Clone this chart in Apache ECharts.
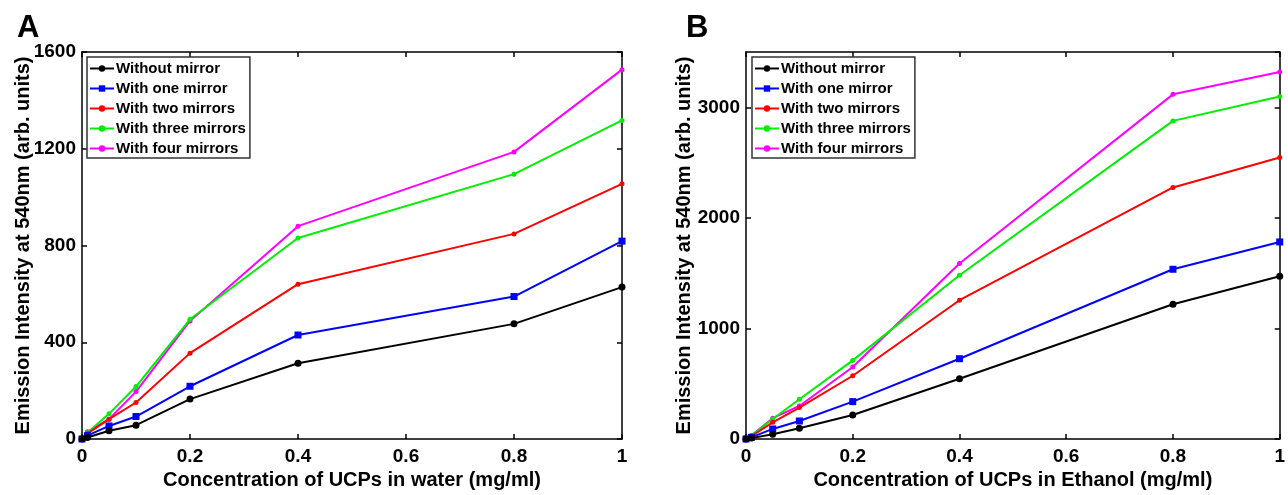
<!DOCTYPE html>
<html>
<head>
<meta charset="utf-8">
<script src="https://cdn.jsdelivr.net/npm/echarts@6/dist/echarts.min.js"></script>
<style>
  html, body { margin: 0; padding: 0; background: #fff; }
  #chart { width: 1288px; height: 495px; }
</style>
</head>
<body>
<div id="chart"></div>
<script>
// concentration (mg/ml), same for both panels
var conc = [0, 0.01, 0.05, 0.1, 0.2, 0.4, 0.8, 1];
var seriesNames = ['Without mirror', 'With one mirror', 'With two mirrors', 'With three mirrors', 'With four mirrors'];

// panel A: water
var waterNone  = [0, 6, 34, 57, 165, 313, 476, 628];
var waterOne   = [0, 14, 54, 93, 218, 430, 589, 818];
var waterTwo   = [0, 22, 82, 151, 355, 640, 848, 1055];
var waterThree = [0, 26, 104, 217, 495, 831, 1095, 1317];
var waterFour  = [0, 30, 82, 196, 488, 880, 1187, 1527];

// panel B: ethanol
var ethNone  = [0, 8, 43, 97, 217, 545, 1219, 1472];
var ethOne   = [0, 15, 91, 163, 338, 726, 1535, 1782];
var ethTwo   = [0, 25, 151, 284, 572, 1255, 2275, 2546];
var ethThree = [0, 30, 181, 359, 711, 1481, 2877, 3097];
var ethFour  = [0, 32, 188, 299, 651, 1587, 3117, 3319];

var colors = ['#000000', '#0000ff', '#ff0000', '#00ee00', '#ff00ff'];
var symbols = ['circle', 'rect', 'circle', 'circle', 'circle'];
var symbolSizes = [7, 7, 5, 5, 5];

var font = 'Liberation Sans, Arial, sans-serif';

function pairs(ys) {
    var out = [];
    for (var i = 0; i < conc.length; i++) {
        out.push([conc[i], ys[i]]);
    }
    return out;
}

function makeSeries(data, xi, yi) {
    var list = [];
    for (var i = 0; i < data.length; i++) {
        list.push({
            name: seriesNames[i],
            type: 'line',
            xAxisIndex: xi,
            yAxisIndex: yi,
            data: pairs(data[i]),
            symbol: symbols[i],
            symbolSize: symbolSizes[i],
            showAllSymbol: true,
            color: colors[i],
            lineStyle: { width: 2, color: colors[i] },
            itemStyle: { color: colors[i] },
            z: 2 + (data.length - i)
        });
    }
    return list;
}

function plain(v) { return String(v); }

function bottomAxis(gi, title) {
    return {
        type: 'value', gridIndex: gi, min: 0, max: 1, interval: 0.2,
        position: 'bottom',
        name: title, nameLocation: 'middle', nameGap: 31, nameMoveOverlap: false,
        nameTextStyle: { fontFamily: font, fontWeight: 'bold', fontSize: 20, color: '#000' },
        axisLine: { onZero: false, lineStyle: { color: '#000', width: 1.5 } },
        axisTick: { inside: true, length: 5, lineStyle: { color: '#000', width: 1.5 } },
        axisLabel: { fontFamily: font, fontWeight: 'bold', fontSize: 19, color: '#000', margin: 8, formatter: plain },
        splitLine: { show: false }
    };
}
function topAxis(gi) {
    return {
        type: 'value', gridIndex: gi, min: 0, max: 1, interval: 0.2,
        position: 'top',
        axisLine: { onZero: false, lineStyle: { color: '#000', width: 1.5 } },
        axisTick: { inside: true, length: 5, lineStyle: { color: '#000', width: 1.5 } },
        axisLabel: { show: false },
        splitLine: { show: false }
    };
}
function leftAxis(gi, max, interval, gap) {
    return {
        type: 'value', gridIndex: gi, min: 0, max: max, interval: interval,
        position: 'left',
        name: 'Emission Intensity at 540nm (arb. units)', nameLocation: 'middle', nameGap: gap,
        nameMoveOverlap: false,
        nameTextStyle: { fontFamily: font, fontWeight: 'bold', fontSize: 20, color: '#000' },
        axisLine: { show: true, onZero: false, lineStyle: { color: '#000', width: 1.5 } },
        axisTick: { show: true, inside: true, length: 5, lineStyle: { color: '#000', width: 1.5 } },
        axisLabel: { fontFamily: font, fontWeight: 'bold', fontSize: 19, color: '#000', margin: 6,
                     formatter: plain, showMaxLabel: max % interval === 0 },
        splitLine: { show: false }
    };
}
function rightAxis(gi, max, interval) {
    return {
        type: 'value', gridIndex: gi, min: 0, max: max, interval: interval,
        position: 'right',
        axisLine: { show: true, onZero: false, lineStyle: { color: '#000', width: 1.5 } },
        axisTick: { show: true, inside: true, length: 5, lineStyle: { color: '#000', width: 1.5 } },
        axisLabel: { show: false },
        splitLine: { show: false }
    };
}
function legendAt(left) {
    return {
        left: left, top: 57,
        orient: 'vertical',
        data: seriesNames,
        itemWidth: 24, itemHeight: 8, itemGap: 5,
        padding: [4, 4, 2, 2],
        borderColor: '#333', borderWidth: 1.5,
        backgroundColor: '#fff',
        selectedMode: false,
        textStyle: { fontFamily: font, fontWeight: 'bold', fontSize: 15, color: '#000', padding: [0, 0, 0, -3] }
    };
}

var myChart = echarts.init(document.getElementById('chart'), null, { renderer: 'canvas' });
var option = {
    animation: false,
    backgroundColor: '#fff',
    title: [
        { text: 'A', left: 12, top: 8, textStyle: { fontFamily: font, fontWeight: 'bold', fontSize: 31, color: '#000' } },
        { text: 'B', left: 681, top: 8, textStyle: { fontFamily: font, fontWeight: 'bold', fontSize: 31, color: '#000' } }
    ],
    legend: [legendAt(87), legendAt(752)],
    grid: [
        { left: 82, top: 52, width: 540, height: 387, containLabel: false },
        { left: 746, top: 52, width: 540, height: 387, containLabel: false }
    ],
    xAxis: [
        bottomAxis(0, 'Concentration of UCPs in water (mg/ml)'),
        topAxis(0),
        bottomAxis(1, 'Concentration of UCPs in Ethanol (mg/ml)'),
        topAxis(1)
    ],
    yAxis: [
        leftAxis(0, 1600, 400, 49),
        rightAxis(0, 1600, 400),
        leftAxis(1, 3500, 1000, 52),
        rightAxis(1, 3500, 1000)
    ],
    series: [].concat(
        makeSeries([waterNone, waterOne, waterTwo, waterThree, waterFour], 0, 0),
        makeSeries([ethNone, ethOne, ethTwo, ethThree, ethFour], 2, 2)
    )
};
myChart.setOption(option);
</script>
</body>
</html>
